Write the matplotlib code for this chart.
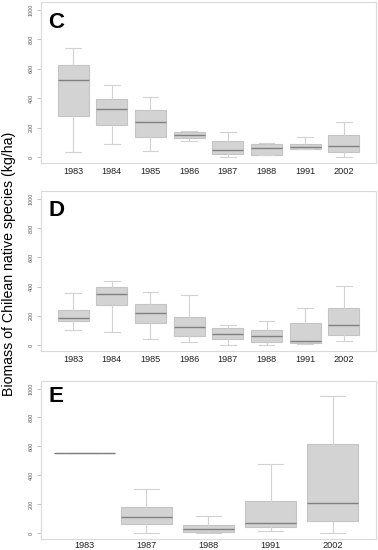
"""Boxplots of Chilean native species biomass by year, panels C, D and E."""

import matplotlib

matplotlib.use("Agg")
import matplotlib.pyplot as plt

plt.rcParams["font.family"] = ["Liberation Sans", "DejaVu Sans"]

# panel C
years_c = ["1983", "1984", "1985", "1986", "1987", "1988", "1991", "2002"]
c_whislo = [36, 86, 38, 111, 0, 14, 52, 0]
c_q1 = [278, 215, 133, 129, 18, 14, 56, 34]
c_med = [523, 328, 237, 151, 50, 59, 68, 72]
c_q3 = [628, 391, 321, 169, 108, 88, 88, 149]
c_whishi = [740, 488, 407, 174, 172, 95, 133, 237]

# panel D
years_d = ["1983", "1984", "1985", "1986", "1987", "1988", "1991", "2002"]
d_whislo = [105, 92, 45, 20, 0, 4, 9, 31]
d_q1 = [166, 271, 154, 60, 43, 22, 16, 72]
d_med = [186, 349, 219, 121, 74, 65, 31, 139]
d_q3 = [239, 394, 282, 190, 119, 105, 148, 253]
d_whishi = [353, 438, 365, 340, 136, 166, 251, 407]

# panel E
years_e = ["1983", "1987", "1988", "1991", "2002"]
e_whislo = [556, 4, 0, 13, 0]
e_q1 = [556, 65, 7, 45, 85]
e_med = [556, 114, 29, 74, 208]
e_q3 = [556, 179, 58, 223, 616]
e_whishi = [556, 304, 121, 480, 951]

yticks = [0, 200, 400, 600, 800, 1000]

W, H = 378, 550
fig = plt.figure(figsize=(W / 100, H / 100), dpi=100)

frame_col = "#dadada"
box_edge = "#c4c4c4"
box_fill = "#d3d3d3"
whisk_col = "#d2d2d2"
med_col = "#808080"


def panel(rect_px, letter, letter_y, labels, lo, q1, med, q3, hi, margin, widths, xpad=3):
    left, top, right, bottom = rect_px
    ax = fig.add_axes([left / W, 1 - bottom / H, (right - left) / W, (bottom - top) / H])
    stats = [
        {"whislo": a, "q1": b, "med": c, "q3": d, "whishi": e, "fliers": []}
        for a, b, c, d, e in zip(lo, q1, med, q3, hi)
    ]
    pos = list(range(1, len(labels) + 1))
    ax.bxp(
        stats,
        positions=pos,
        widths=widths,
        capwidths=[w * 0.5 for w in widths],
        patch_artist=True,
        boxprops=dict(facecolor=box_fill, edgecolor=box_edge, linewidth=0.8),
        whiskerprops=dict(color=whisk_col, linewidth=0.8),
        capprops=dict(color=whisk_col, linewidth=0.8),
        medianprops=dict(color=med_col, linewidth=1.0),
    )
    ax.set_xlim(1 - margin, len(labels) + margin)
    ax.set_ylim(-40, 1052)
    ax.set_xticks(pos)
    ax.set_xticklabels(labels, fontsize=6.6, color="#222222")
    ax.set_yticks(yticks)
    ax.set_yticklabels([str(v) for v in yticks], rotation=90, va="center",
                       fontsize=3.9, color="#555555")
    ax.tick_params(axis="x", length=0, pad=xpad)
    ax.tick_params(axis="y", length=3, width=0.6, color="#bbbbbb", pad=2)
    for s in ax.spines.values():
        s.set_color(frame_col)
        s.set_linewidth(0.8)
    ax.text(0.021, letter_y, letter, transform=ax.transAxes, ha="left", va="top",
            fontsize=16, fontweight="bold", color="black")
    return ax


panel((41, 2, 376, 163), "C", 0.935, years_c, c_whislo, c_q1, c_med, c_q3, c_whishi,
      0.83, [0.8] * 8)
panel((41, 191, 376, 351), "D", 0.945, years_d, d_whislo, d_q1, d_med, d_q3, d_whishi,
      0.83, [0.8] * 8)
panel((41, 381, 376, 539), "E", 0.97, years_e, e_whislo, e_q1, e_med, e_q3, e_whishi,
      0.7, [0.97, 0.82, 0.82, 0.82, 0.82], xpad=1.5)

fig.text(9 / W, 1 - 264 / H, "Biomass of Chilean native species (kg/ha)",
         rotation=90, ha="center", va="center", fontsize=10.2, color="black")

fig.savefig("out.png", dpi=100)
